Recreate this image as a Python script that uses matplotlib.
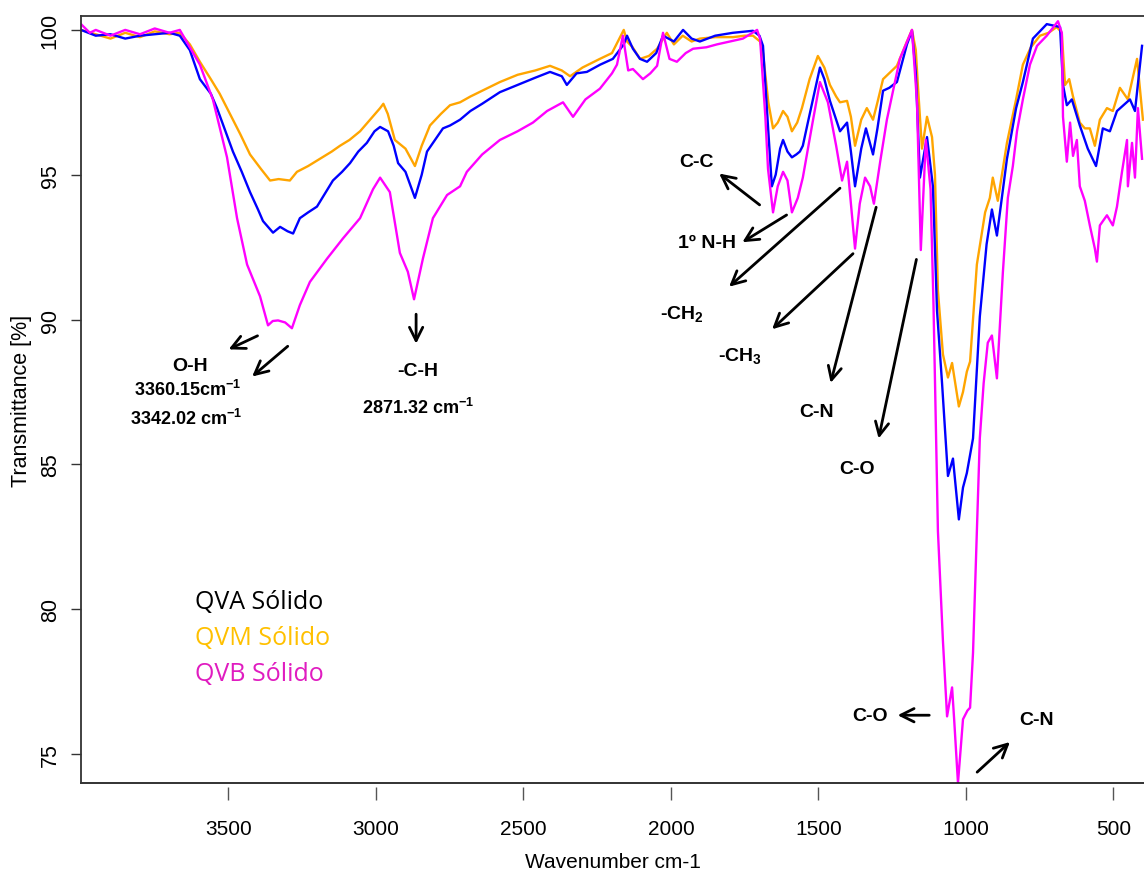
import matplotlib
matplotlib.use("Agg")
import numpy as np
from matplotlib import pyplot as plt

# --- data (wavenumber cm-1, transmittance %) ---
wn_qvm = [4000, 3950, 3900, 3850, 3800, 3750, 3700, 3665, 3631, 3597, 3560, 3530, 3495, 3460,
          3427, 3390, 3359, 3330, 3292, 3268, 3230, 3190, 3150, 3122, 3090, 3054, 3020, 2986,
          2975, 2960, 2936, 2900, 2868, 2845, 2817, 2780, 2749, 2715, 2680, 2640, 2580, 2520,
          2460, 2410, 2370, 2342, 2300, 2241, 2200, 2160, 2149, 2130, 2105, 2075, 2047, 2014,
          1990, 1960, 1930, 1902, 1850, 1790, 1750, 1722, 1698, 1688, 1670, 1654, 1638, 1620,
          1605, 1590, 1572, 1556, 1530, 1502, 1480, 1461, 1440, 1427, 1403, 1390, 1376, 1355,
          1336, 1315, 1300, 1281, 1234, 1200, 1183, 1170, 1163, 1149, 1132, 1115, 1105, 1095,
          1078, 1061, 1047, 1024, 1010, 997, 986, 963, 935, 919, 909, 892, 861, 830, 807, 780,
          749, 720, 692, 675, 664, 650, 637, 614, 597, 580, 563, 546, 522, 502, 478, 451, 420, 400]
t_qvm = [100.0, 99.85, 99.7, 99.9, 99.75, 99.95, 99.85, 99.9, 99.5, 98.9, 98.3, 97.8, 97.1, 96.4,
         95.7, 95.2, 94.8, 94.85, 94.8, 95.1, 95.3, 95.55, 95.8, 96.0, 96.2, 96.5, 96.9, 97.3,
         97.45, 97.1, 96.2, 95.9, 95.3, 96.0, 96.7, 97.1, 97.4, 97.5, 97.7, 97.9, 98.2, 98.45,
         98.6, 98.76, 98.6, 98.4, 98.7, 99.0, 99.2, 100.0, 99.6, 99.4, 99.0, 99.1, 99.35, 99.9,
         99.5, 99.8, 99.6, 99.7, 99.75, 99.75, 99.8, 99.8, 99.6, 99.2, 97.5, 96.6, 96.8, 97.2,
         97.0, 96.5, 96.8, 97.3, 98.3, 99.1, 98.7, 98.1, 97.7, 97.5, 97.55, 97.0, 96.0, 96.9,
         97.3, 96.9, 97.5, 98.3, 98.76, 99.6, 100.0, 99.3, 98.1, 95.9, 97.0, 96.3, 95.0, 91.0,
         88.8, 88.0, 88.5, 87.0, 87.5, 88.2, 88.55, 91.9, 93.7, 94.2, 94.9, 94.1, 96.1, 97.6, 98.8, 99.4,
         99.8, 99.9, 100.1, 99.9, 98.1, 98.3, 97.7, 96.8, 96.6, 96.6, 96.0, 96.9, 97.3, 97.2, 98.0, 97.6, 99.0, 96.9]

wn_qva = [4000, 3950, 3900, 3850, 3800, 3750, 3700, 3665, 3631, 3597, 3560, 3539, 3510, 3485,
          3455, 3427, 3400, 3383, 3349, 3325, 3300, 3281, 3258, 3230, 3200, 3170, 3146, 3115,
          3088, 3060, 3031, 3005, 2986, 2959, 2940, 2925, 2900, 2868, 2845, 2827, 2800, 2773,
          2749, 2715, 2680, 2640, 2580, 2520, 2460, 2410, 2370, 2353, 2320, 2285, 2240, 2197,
          2160, 2149, 2129, 2105, 2081, 2050, 2027, 1990, 1959, 1930, 1902, 1850, 1790, 1722,
          1700, 1688, 1670, 1658, 1645, 1630, 1620, 1605, 1590, 1575, 1563, 1553, 1536, 1495,
          1480, 1461, 1440, 1427, 1403, 1390, 1376, 1355, 1339, 1315, 1300, 1281, 1260, 1234,
          1200, 1183, 1170, 1156, 1144, 1132, 1112, 1098, 1081, 1061, 1044, 1024, 1010, 997,
          976, 953, 930, 912, 895, 861, 830, 807, 773, 726, 681, 671, 658, 641, 614, 587, 559,
          536, 512, 488, 444, 427, 403]
t_qva = [100.0, 99.8, 99.85, 99.7, 99.8, 99.85, 99.9, 99.8, 99.3, 98.3, 97.8, 97.3, 96.5, 95.8,
         95.1, 94.4, 93.8, 93.4, 93.0, 93.2, 93.05, 92.97, 93.5, 93.7, 93.9, 94.4, 94.8, 95.1,
         95.4, 95.8, 96.1, 96.5, 96.65, 96.5, 96.0, 95.4, 95.1, 94.2, 95.0, 95.8, 96.2, 96.6,
         96.7, 96.9, 97.2, 97.45, 97.85, 98.1, 98.35, 98.55, 98.4, 98.1, 98.5, 98.55, 98.8, 99.0,
         99.5, 99.8, 99.35, 99.0, 98.9, 99.2, 99.8, 99.6, 100.0, 99.7, 99.6, 99.8, 99.9, 99.97,
         99.8, 99.45, 96.5, 94.6, 95.0, 95.9, 96.2, 95.8, 95.6, 95.7, 95.8, 96.0, 96.8, 98.7,
         98.3, 97.55, 96.9, 96.5, 96.8, 95.8, 94.6, 95.9, 96.6, 95.7, 96.6, 97.9, 98.0, 98.2,
         99.5, 99.97, 98.5, 94.9, 95.6, 96.3, 94.6, 90.3, 87.8, 84.6, 85.2, 83.1, 84.2, 84.7,
         85.9, 90.1, 92.6, 93.8, 92.9, 95.55, 97.3, 98.2, 99.7, 100.2, 100.1, 98.1, 97.4, 97.6, 96.7, 95.9, 95.3,
         96.6, 96.5, 97.2, 97.6, 97.2, 99.45]

wn_qvb = [4000, 3970, 3950, 3900, 3850, 3800, 3750, 3700, 3665, 3631, 3597, 3553, 3505, 3471,
          3437, 3393, 3366, 3350, 3332, 3308, 3285, 3258, 3224, 3166, 3112, 3054, 3010, 2986,
          2953, 2919, 2892, 2871, 2841, 2807, 2759, 2715, 2692, 2640, 2580, 2520, 2468, 2420,
          2366, 2332, 2290, 2241, 2200, 2183, 2163, 2145, 2129, 2095, 2070, 2047, 2027, 2005,
          1980, 1950, 1925, 1880, 1844, 1800, 1756, 1708, 1698, 1680, 1671, 1654, 1638, 1620,
          1605, 1590, 1570, 1553, 1520, 1495, 1468, 1440, 1420, 1403, 1390, 1376, 1360, 1342,
          1325, 1312, 1290, 1268, 1224, 1183, 1166, 1153, 1136, 1120, 1110, 1095, 1078, 1064,
          1047, 1040, 1027, 1010, 995, 986, 976, 965, 953, 940, 926, 912, 895, 875, 858, 841,
          827, 807, 783, 759, 726, 688, 675, 671, 658, 647, 637, 624, 614, 597, 580, 563, 556,
          546, 522, 502, 488, 471, 454, 451, 437, 427, 417, 403]
t_qvb = [100.2, 99.9, 100.0, 99.8, 100.0, 99.85, 100.05, 99.9, 100.0, 99.4, 98.8, 97.6, 95.6, 93.5,
         91.9, 90.8, 89.8, 89.95, 89.97, 89.9, 89.7, 90.5, 91.3, 92.1, 92.8, 93.5, 94.5, 94.9,
         94.4, 92.3, 91.65, 90.7, 92.1, 93.5, 94.3, 94.6, 95.1, 95.7, 96.2, 96.5, 96.8, 97.2,
         97.5, 97.0, 97.6, 97.97, 98.5, 98.8, 99.8, 98.6, 98.65, 98.3, 98.5, 98.76, 99.9, 99.0,
         98.9, 99.2, 99.35, 99.4, 99.5, 99.6, 99.7, 100.0, 99.7, 97.0, 95.2, 93.7, 94.6, 95.1,
         94.8, 93.7, 94.2, 94.9, 96.8, 98.2, 97.5, 96.0, 94.8, 95.45, 94.0, 92.45, 94.0, 94.9,
         94.6, 94.0, 95.5, 96.9, 99.0, 100.0, 97.5, 92.4, 96.2, 94.5, 90.5, 82.7, 78.9, 76.3,
         77.3, 76.2, 74.0, 76.2, 76.5, 76.6, 78.5, 82.0, 85.9, 87.8, 89.2, 89.45, 87.97, 91.6, 94.2, 95.3,
         96.5, 97.6, 98.8, 99.45, 99.8, 100.3, 99.9, 97.0, 95.45, 96.8, 95.65, 96.2, 94.6, 94.1, 93.25, 92.45, 92.0,
         93.25, 93.6, 93.25, 93.9, 95.1, 96.2, 94.6, 96.1, 94.9, 97.3, 95.55]

legend_labels = ["QVA Sólido", "QVM Sólido", "QVB Sólido"]
xticks = [3500, 3000, 2500, 2000, 1500, 1000, 500]
yticks = [75, 80, 85, 90, 95, 100]

plt.rcParams['font.family'] = ['Liberation Sans Narrow', 'Liberation Sans', 'DejaVu Sans']
plt.rcParams['mathtext.fontset'] = 'custom'
plt.rcParams['mathtext.rm'] = 'Liberation Sans'
plt.rcParams['mathtext.bf'] = 'Liberation Sans:bold'

fig = plt.figure(figsize=(11.44, 8.78), dpi=100)
ax = fig.add_axes([81/1144, 94/878, 1064/1144, 767/878])

ax.plot(wn_qvm, t_qvm, color='#FFA500', lw=1.7)
ax.plot(wn_qva, t_qva, color='#0000FF', lw=1.7)
ax.plot(wn_qvb, t_qvb, color='#FF00FF', lw=1.7)

ax.set_xlim(4000, 393)
ax.set_ylim(74.0, 100.48)
ax.set_xticks(xticks)
ax.set_yticks(yticks)

# R style frame: ticks below the box with a small gap
for s in ['top', 'left']:
    ax.spines[s].set_color('#333333')
    ax.spines[s].set_linewidth(1.3)
ax.spines['right'].set_visible(False)
ax.spines['bottom'].set_position(('outward', 3))
ax.spines['bottom'].set_color('none')
ax.plot([0, 1], [0, 0], transform=ax.transAxes, color='#222222', lw=1.3, clip_on=False)

ax.tick_params(axis='x', length=9, width=1, color='#555555', pad=14, labelsize=15)
ax.tick_params(axis='y', length=7.5, width=1, color='#333333', pad=7, labelsize=15.5)
for lab in ax.get_yticklabels():
    lab.set_rotation(90)
    lab.set_va('center')

ax.set_xlabel("Wavenumber cm-1", fontsize=15, labelpad=10)
ax.set_ylabel("Transmittance [%]", fontsize=15.5, labelpad=6)

# legend as plain coloured text
leg_colors = ['black', '#FFC000', '#E01CC0']
leg_y = [80.28, 79.03, 77.79]
for lab, c, yy in zip(legend_labels, leg_colors, leg_y):
    ax.text(3613, yy, lab, color=c, fontsize=18, family=['Open Sans', 'DejaVu Sans'],
            va='center', ha='left')

# band assignments
bold = dict(fontsize=14, fontweight='bold', family=['Liberation Sans', 'DejaVu Sans'],
            ha='center', va='center')
num = dict(bold, fontsize=13)
arr = dict(arrowstyle='->', lw=2, color='black', mutation_scale=24)

ax.text(3631, 88.4, "O-H", **bold)
ax.text(3637, 87.6, r"3360.15cm$^{\mathbf{-1}}$", **num)
ax.text(3642, 86.6, r"3342.02 cm$^{\mathbf{-1}}$", **num)
ax.annotate("", xy=(3508, 88.93), xytext=(3393, 89.48), arrowprops=arr)
ax.annotate("", xy=(3427, 87.97), xytext=(3292, 89.14), arrowprops=arr)

ax.text(2858, 88.24, "-C-H", **bold)
ax.text(2858, 86.97, r"2871.32 cm$^{\mathbf{-1}}$", **num)
ax.annotate("", xy=(2864, 89.07), xytext=(2864, 90.28), arrowprops=arr)

ax.text(1912, 95.45, "C-C", **bold)
ax.annotate("", xy=(1844, 95.1), xytext=(1692, 93.9), arrowprops=arr)
ax.text(1878, 92.65, "1º N-H", **bold)
ax.annotate("", xy=(1766, 92.62), xytext=(1600, 93.66), arrowprops=arr)
ax.text(1963, 90.2, r"-CH$_\mathbf{2}$", **bold)
ax.annotate("", xy=(1810, 91.07), xytext=(1420, 94.6), arrowprops=arr)
ax.text(1766, 88.76, r"-CH$_\mathbf{3}$", **bold)
ax.annotate("", xy=(1664, 89.6), xytext=(1376, 92.34), arrowprops=arr)
ax.text(1505, 86.83, "C-N", **bold)
ax.annotate("", xy=(1461, 87.72), xytext=(1302, 93.97), arrowprops=arr)
ax.text(1369, 84.86, "C-O", **bold)
ax.annotate("", xy=(1298, 85.8), xytext=(1166, 92.17), arrowprops=arr)

ax.text(1325, 76.34, "C-O", **bold)
ax.annotate("", xy=(1241, 76.34), xytext=(1115, 76.34), arrowprops=arr)
ax.text(759, 76.2, "C-N", **bold)
ax.annotate("", xy=(844, 75.48), xytext=(969, 74.31), arrowprops=arr)

fig.savefig("out.png", dpi=100)
